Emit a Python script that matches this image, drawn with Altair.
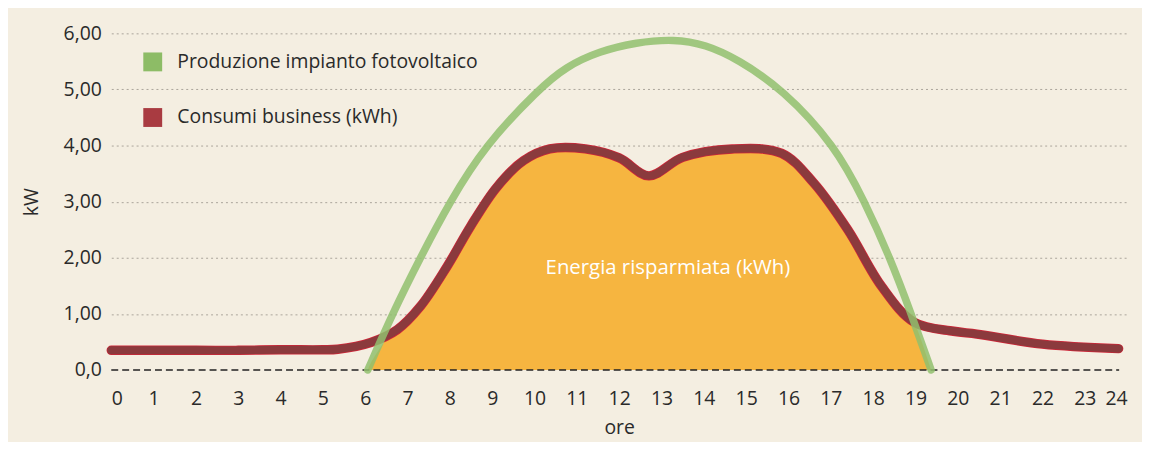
import altair as alt
import pandas as pd
import numpy as np

# ---- data ----
serie = ["Produzione impianto fotovoltaico", "Consumi business (kWh)"]
colori_legenda = ["#8dbc66", "#a93b41"]

ore_prod = [6.06, 6.64, 7.3, 8.0, 8.83, 10.09, 10.75, 11.53, 12.4, 13.3, 14.04, 14.8, 15.87,
            17.1, 17.8, 18.4, 18.9, 19.37]
kw_prod = [0.0, 1.0, 2.0, 3.0, 4.0, 5.0, 5.41, 5.68, 5.84, 5.9, 5.8, 5.54, 5.0,
           4.0, 3.0, 2.0, 1.0, 0.0]

ore_cons = [0, 1, 2, 3, 4, 5, 5.35, 6.13, 6.76, 7.3, 7.93, 8.48, 9.1, 9.74, 10.36, 11.2, 12.0,
            12.7, 13.5, 14.67, 15.84, 16.6, 17.4, 18.2, 18.97, 19.9, 20.45, 22.0, 23.8]
kw_cons = [0.35, 0.35, 0.35, 0.35, 0.36, 0.36, 0.37, 0.49, 0.72, 1.13, 1.84, 2.55, 3.25, 3.73, 3.94,
           3.94, 3.78, 3.46, 3.79, 3.94, 3.86, 3.33, 2.5, 1.49, 0.85, 0.69, 0.64, 0.46, 0.38]

x_ticks = list(range(0, 25))
y_ticks = [0, 1, 2, 3, 4, 5, 6]
etichetta_area = ["Energia risparmiata (kWh)"]
etichetta_ore = [13.15]
etichetta_kw = [1.82]

FONT = "Open Sans"
TXT = "#2a2a2a"
FS = 19.5

df_prod = pd.DataFrame({"ore": ore_prod, "kW": kw_prod, "serie": serie[0]})
df_cons = pd.DataFrame({"ore": ore_cons, "kW": kw_cons, "serie": serie[1]})
df_all = pd.concat([df_prod, df_cons], ignore_index=True)

# energy saved = overlap of production and consumption
lo, hi = ore_prod[0], ore_prod[-1]
xs = sorted(set([x for x in ore_prod + ore_cons if lo <= x <= hi]))
overlap = np.minimum(np.interp(xs, ore_prod, kw_prod), np.interp(xs, ore_cons, kw_cons))
df_fill = pd.DataFrame({"ore": xs, "kW": overlap})
df_text = pd.DataFrame({"ore": etichetta_ore, "kW": etichetta_kw, "t": etichetta_area})
df_zero = pd.DataFrame({"kW": [0]})

x_scale = alt.Scale(domain=[0, 24], nice=False, zero=False)
y_scale = alt.Scale(domain=[0, 6], nice=False)

x_axis = alt.Axis(values=x_ticks, grid=False, ticks=False, domain=False,
                  labelFont=FONT, labelFontSize=FS, labelColor=TXT, labelPadding=20,
                  title="ore", titleFont=FONT, titleFontSize=FS, titleFontWeight="normal",
                  titleColor=TXT, titlePadding=10)
y_axis = alt.Axis(values=y_ticks, ticks=False, domain=False, grid=True,
                  gridColor="#aaa49a", gridDash=[2, 3], gridWidth=1,
                  gridOpacity={"condition": {"test": "datum.value === 0", "value": 0}, "value": 1},
                  labelExpr="datum.value == 0 ? '0,0' : replace(format(datum.value, '.2f'), '.', ',')",
                  labelFont=FONT, labelFontSize=FS, labelColor=TXT, labelPadding=10,
                  title="kW", titleFont=FONT, titleFontSize=FS, titleFontWeight="normal",
                  titleColor=TXT, titlePadding=22)

X = alt.X("ore:Q", scale=x_scale, axis=x_axis)
Y = alt.Y("kW:Q", scale=y_scale, axis=y_axis)
INTERP = "catmull-rom"

area = alt.Chart(df_fill).mark_area(color="#f6b540", interpolate=INTERP).encode(x=X, y=Y)

zero_rule = alt.Chart(df_zero).mark_rule(color="#222", strokeDash=[7, 4], strokeWidth=1.6).encode(
    y=Y, x=alt.value(0), x2=alt.value(1015))

cons_edge = alt.Chart(df_cons).mark_line(color="#cf2638", strokeWidth=9.5, interpolate=INTERP,
                                          strokeCap="round", strokeJoin="round").encode(x=X, y=Y)
cons_line = alt.Chart(df_cons).mark_line(color="#8b3a3d", strokeWidth=8, interpolate=INTERP,
                                          strokeCap="round", strokeJoin="round").encode(x=X, y=Y)
prod_line = alt.Chart(df_prod).mark_line(color="#90bf6d", strokeWidth=7.5, opacity=0.85,
                                          interpolate="basis", strokeCap="round",
                                          strokeJoin="round").encode(x=X, y=Y)

legend_layer = alt.Chart(df_all).mark_square(opacity=0, size=1).encode(
    x=X, y=Y,
    fill=alt.Fill("serie:N", scale=alt.Scale(domain=serie, range=colori_legenda),
                  legend=alt.Legend(orient="none", legendX=32, legendY=19, title=None,
                                    symbolType="square", symbolSize=361, symbolStrokeWidth=0,
                                    symbolOpacity=1, labelFont=FONT, labelFontSize=FS,
                                    labelColor=TXT, labelOffset=15, rowPadding=35, padding=0,
                                    labelLimit=600)))

text = alt.Chart(df_text).mark_text(color="white", font=FONT, fontSize=20.5, fontWeight=500,
                                    align="center", baseline="middle").encode(x=X, y=Y, text="t:N")

chart = alt.layer(area, zero_rule, cons_edge, cons_line, prod_line, legend_layer, text).properties(
    width=1023, height=339, autosize="none",
    padding={"left": 104, "top": 24, "right": 15, "bottom": 71},
    background="#f4eee1",
).configure_view(stroke=None)

chart.save("out.html", embed_options={"renderer": "svg", "actions": False})
